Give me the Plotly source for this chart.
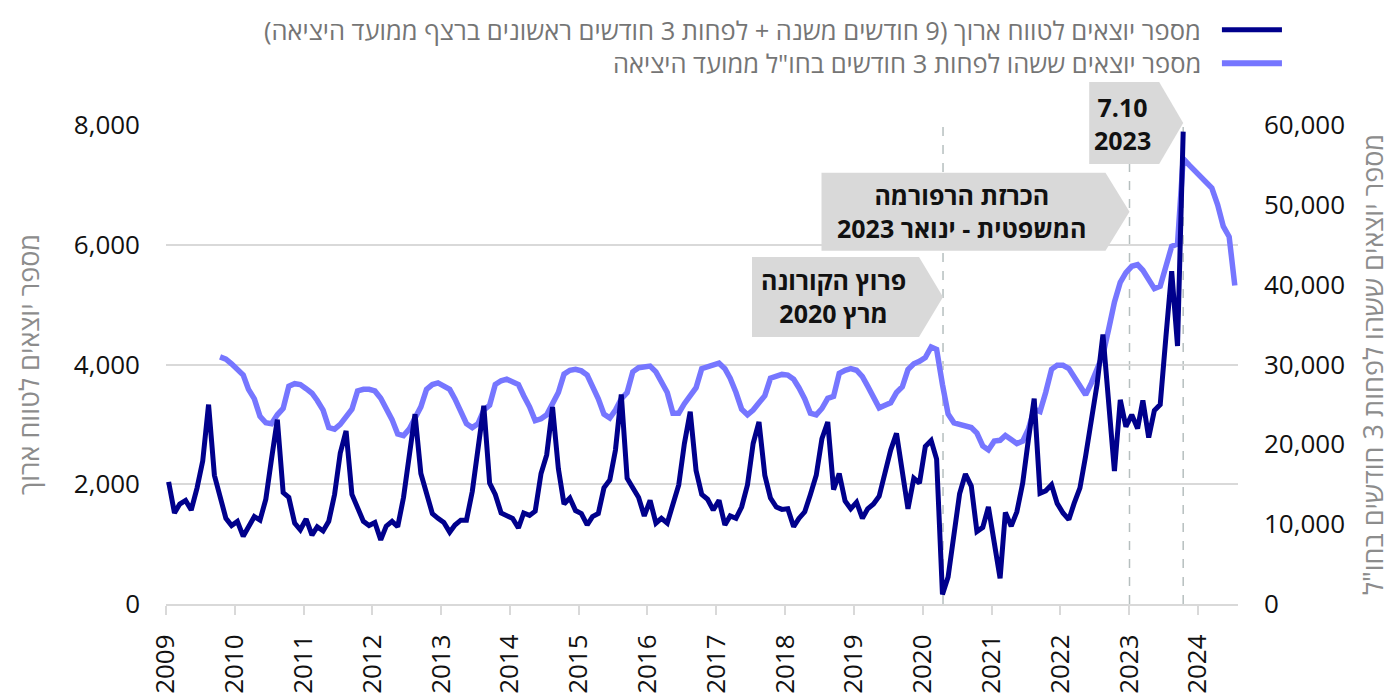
import pandas as pd
import plotly.graph_objects as go

# ---- data (monthly) ----
# Long-term leavers, Jan 2009 - Oct 2023 (left axis)
long_term = [
    2040, 1520, 1670, 1730, 1570, 1940, 2390, 3330, 2150, 1780, 1430, 1310,  # 2009
    1380, 1130, 1300, 1460, 1400, 1750, 2420, 3080, 1860, 1780, 1350, 1240,  # 2010
    1420, 1150, 1290, 1220, 1380, 1830, 2520, 2890, 1830, 1590, 1380, 1310,  # 2011
    1360, 1070, 1300, 1380, 1290, 1780, 2420, 3170, 2180, 1830, 1510, 1430,  # 2012
    1360, 1200, 1320, 1400, 1400, 1880, 2630, 3310, 2020, 1830, 1520, 1470,  # 2013
    1430, 1270, 1520, 1480, 1550, 2180, 2490, 3290, 2260, 1670, 1770, 1560,  # 2014
    1510, 1320, 1460, 1510, 1940, 2070, 2570, 3500, 2100, 1940, 1780, 1470,  # 2015
    1730, 1350, 1430, 1350, 1640, 1990, 2680, 3210, 2230, 1830, 1750, 1570,  # 2016
    1730, 1320, 1470, 1430, 1620, 1990, 2680, 3040, 2150, 1770, 1620, 1580,  # 2017
    1590, 1290, 1430, 1540, 1830, 2150, 2760, 3040, 1910, 2180, 1720, 1590,  # 2018
    1700, 1430, 1590, 1670, 1800, 2180, 2570, 2850, 2260, 1590, 2100, 2020,  # 2019
    2630, 2730, 2420, 160, 450, 1120, 1840, 2170, 1970, 1210, 1280, 1620,    # 2020
    1040, 430, 1530, 1300, 1540, 2020, 2740, 3430, 1850, 1890, 1990, 1680,   # 2021
    1520, 1410, 1680, 1940, 2470, 3060, 3670, 4500, 3300, 2220, 3410, 2960,  # 2022
    3160, 2930, 3400, 2780, 3230, 3330, 4450, 5560, 4310, 7890,              # 2023
]
long_term_start = "2009-01-01"

# Leavers abroad at least 3 months, Oct 2009 - Jul 2024 (right axis)
abroad = [
    30960, 30680, 30080,                                                             # 2009
    29360, 28680, 26890, 25690, 23500, 22700, 22580, 23700, 24500, 27290, 27600, 27490,  # 2010
    26970, 26400, 25490, 24290, 22100, 21900, 22500, 23600, 24400, 26690, 26900, 26900,  # 2011
    26690, 25770, 24500, 23100, 21300, 21100, 21900, 23300, 24700, 26890, 27490, 27690,  # 2012
    27290, 26890, 25690, 24290, 22580, 22100, 22580, 24290, 24900, 27490, 27960, 28160,  # 2013
    27770, 27490, 26090, 24700, 22980, 23200, 23700, 25300, 26500, 28800, 29280, 29400,  # 2014
    29200, 28680, 27290, 25690, 23780, 23300, 24300, 25690, 26490, 29080, 29600, 29760,  # 2015
    29800, 29080, 27890, 26490, 23900, 23900, 25090, 26000, 27090, 29480, 29760, 30000,  # 2016
    30160, 29480, 28280, 26490, 24410, 23700, 24300, 25210, 26090, 28280, 28480, 28760,  # 2017
    28680, 28160, 27090, 25690, 23900, 23700, 24490, 25770, 26010, 28880, 29280, 29480,  # 2018
    29280, 28480, 27290, 25890, 24570, 24890, 25210, 26490, 27210, 29360, 30080, 30400,  # 2019
    30880, 32200, 31900, 27500, 23800, 22700, 22500, 22300, 22100, 21400, 19800, 19300,  # 2020
    20400, 20500, 21100, 20600, 20100, 20400, 21900, 24400, 24100, 26500, 29400, 29900,  # 2021
    29900, 29500, 28500, 27100, 26200, 27700, 29300, 31200, 34500, 37800, 40300, 41500,  # 2022
    42300, 42500, 41800, 40700, 39500, 39800, 42300, 44800, 45100, 55800, 55000, 54300,  # 2023
    53600, 52800, 52100, 50000, 47300, 46000, 39900,                                     # 2024
]
abroad_start = "2009-10-01"

long_term_name = "מספר יוצאים לטווח ארוך (9 חודשים משנה + לפחות 3 חודשים ראשונים ברצף ממועד היציאה)"
abroad_name = "מספר יוצאים ששהו לפחות 3 חודשים בחו\"ל ממועד היציאה"
left_title = "מספר יוצאים לטווח ארוך"
right_title = "מספר יוצאים ששהו לפחות 3 חודשים בחו\"ל"

events = [
    {"date": "2020-04-18", "text": "<b>פרוץ הקורונה<br>מרץ 2020</b>", "ypos": 0.641, "left": 191, "half": 40},
    {"date": "2023-01-03", "text": "<b>הכרזת הרפורמה<br>המשפטית - ינואר 2023</b>", "ypos": 0.819, "left": 308, "half": 39},
    {"date": "2023-10-15", "text": "<b>7.10<br>2023</b>", "ypos": 1.004, "left": 94, "half": 41},
]

DARK = "#00008c"
LIGHT = "#7676ff"
GRID = "#d9d9d9"
FONT = "Open Sans, Noto Sans, DejaVu Sans, sans-serif"
TICK = 26

lt_dates = pd.date_range(long_term_start, periods=len(long_term), freq="MS") + pd.Timedelta(days=14)
ab_dates = pd.date_range(abroad_start, periods=len(abroad), freq="MS") + pd.Timedelta(days=14)

fig = go.Figure()
fig.add_trace(go.Scatter(x=ab_dates, y=abroad, name=abroad_name, mode="lines",
                         line=dict(color=LIGHT, width=5.5), yaxis="y", showlegend=False))
fig.add_trace(go.Scatter(x=lt_dates, y=long_term, name=long_term_name, mode="lines",
                         line=dict(color=DARK, width=5), yaxis="y2", showlegend=False))

xrange = ["2009-01-01", "2024-08-01"]

fig.update_layout(
    width=1399, height=698,
    margin=dict(l=158, r=169, t=117, b=80),
    paper_bgcolor="white", plot_bgcolor="white",
    font=dict(family=FONT, size=TICK, color="#111111"),
    xaxis=dict(type="date", range=xrange, dtick="M12", tick0="2009-01-01", tickformat="%Y",
               tickangle=-90, showgrid=False, showline=True, linecolor=GRID, linewidth=2,
               ticks="outside", ticklen=9, tickwidth=2, tickcolor=GRID,
               ticklabelstandoff=9, tickfont=dict(size=TICK, color="#111111")),
    xaxis2=dict(type="date", range=xrange, dtick="M12", tick0="2009-01-01", overlaying="x",
                anchor="y", showgrid=False, showline=False, showticklabels=False,
                ticks="inside", ticklen=8, tickwidth=2, tickcolor=GRID),
    yaxis=dict(side="right", range=[0, 60000], dtick=10000, tickformat=",", showgrid=False,
               zeroline=False, showline=False, ticks="", ticklabelstandoff=25,
               tickfont=dict(size=TICK, color="#111111"),
               title=dict(text=right_title, font=dict(size=27, color="#8c8c8c"), standoff=20)),
    yaxis2=dict(side="left", overlaying="y", range=[0, 8000], dtick=2000, tickformat=",",
                showgrid=True, gridcolor=GRID, gridwidth=1.5, zeroline=False, showline=False,
                ticks="", ticklabelstandoff=25, tickfont=dict(size=TICK, color="#111111"),
                title=dict(text=left_title, font=dict(size=27, color="#8c8c8c"), standoff=26)),
)

shapes = []
annotations = []
for ev in events:
    shapes.append(dict(type="line", xref="x", yref="paper", x0=ev["date"], x1=ev["date"],
                       y0=0, y1=1, layer="below",
                       line=dict(color="#b6bfbf", width=1.5, dash="dash")))
for ev in events:
    L, H = ev["left"], ev["half"]
    shapes.append(dict(type="path", xref="x", yref="paper", xsizemode="pixel", ysizemode="pixel",
                       xanchor=ev["date"], yanchor=ev["ypos"],
                       path=f"M {-L},{H} L -24,{H} L 0,0 L -24,{-H} L {-L},{-H} Z",
                       fillcolor="#d9d9d9", line=dict(width=0), layer="above"))
    annotations.append(dict(xref="x", yref="paper", x=ev["date"], y=ev["ypos"],
                            xshift=-(L + 24) / 2 - 2, yshift=0, text=ev["text"], showarrow=False,
                            xanchor="center", yanchor="middle", align="center",
                            font=dict(size=25, color="#111111", family=FONT)))

# legend (RTL: swatch on the right of the text)
for name, color, ypos, width in [(long_term_name, DARK, 1.1986, 5), (abroad_name, LIGHT, 1.1287, 6)]:
    annotations.append(dict(xref="paper", yref="paper", x=0.9674, y=ypos, text=name,
                            showarrow=False, xanchor="right", yanchor="middle",
                            font=dict(size=25.5, color="#757575", family=FONT)))
    shapes.append(dict(type="line", xref="paper", yref="paper", x0=0.985, x1=1.041,
                       y0=ypos, y1=ypos, line=dict(color=color, width=width)))

fig.update_layout(shapes=shapes, annotations=annotations)
fig.write_html("out.html")
